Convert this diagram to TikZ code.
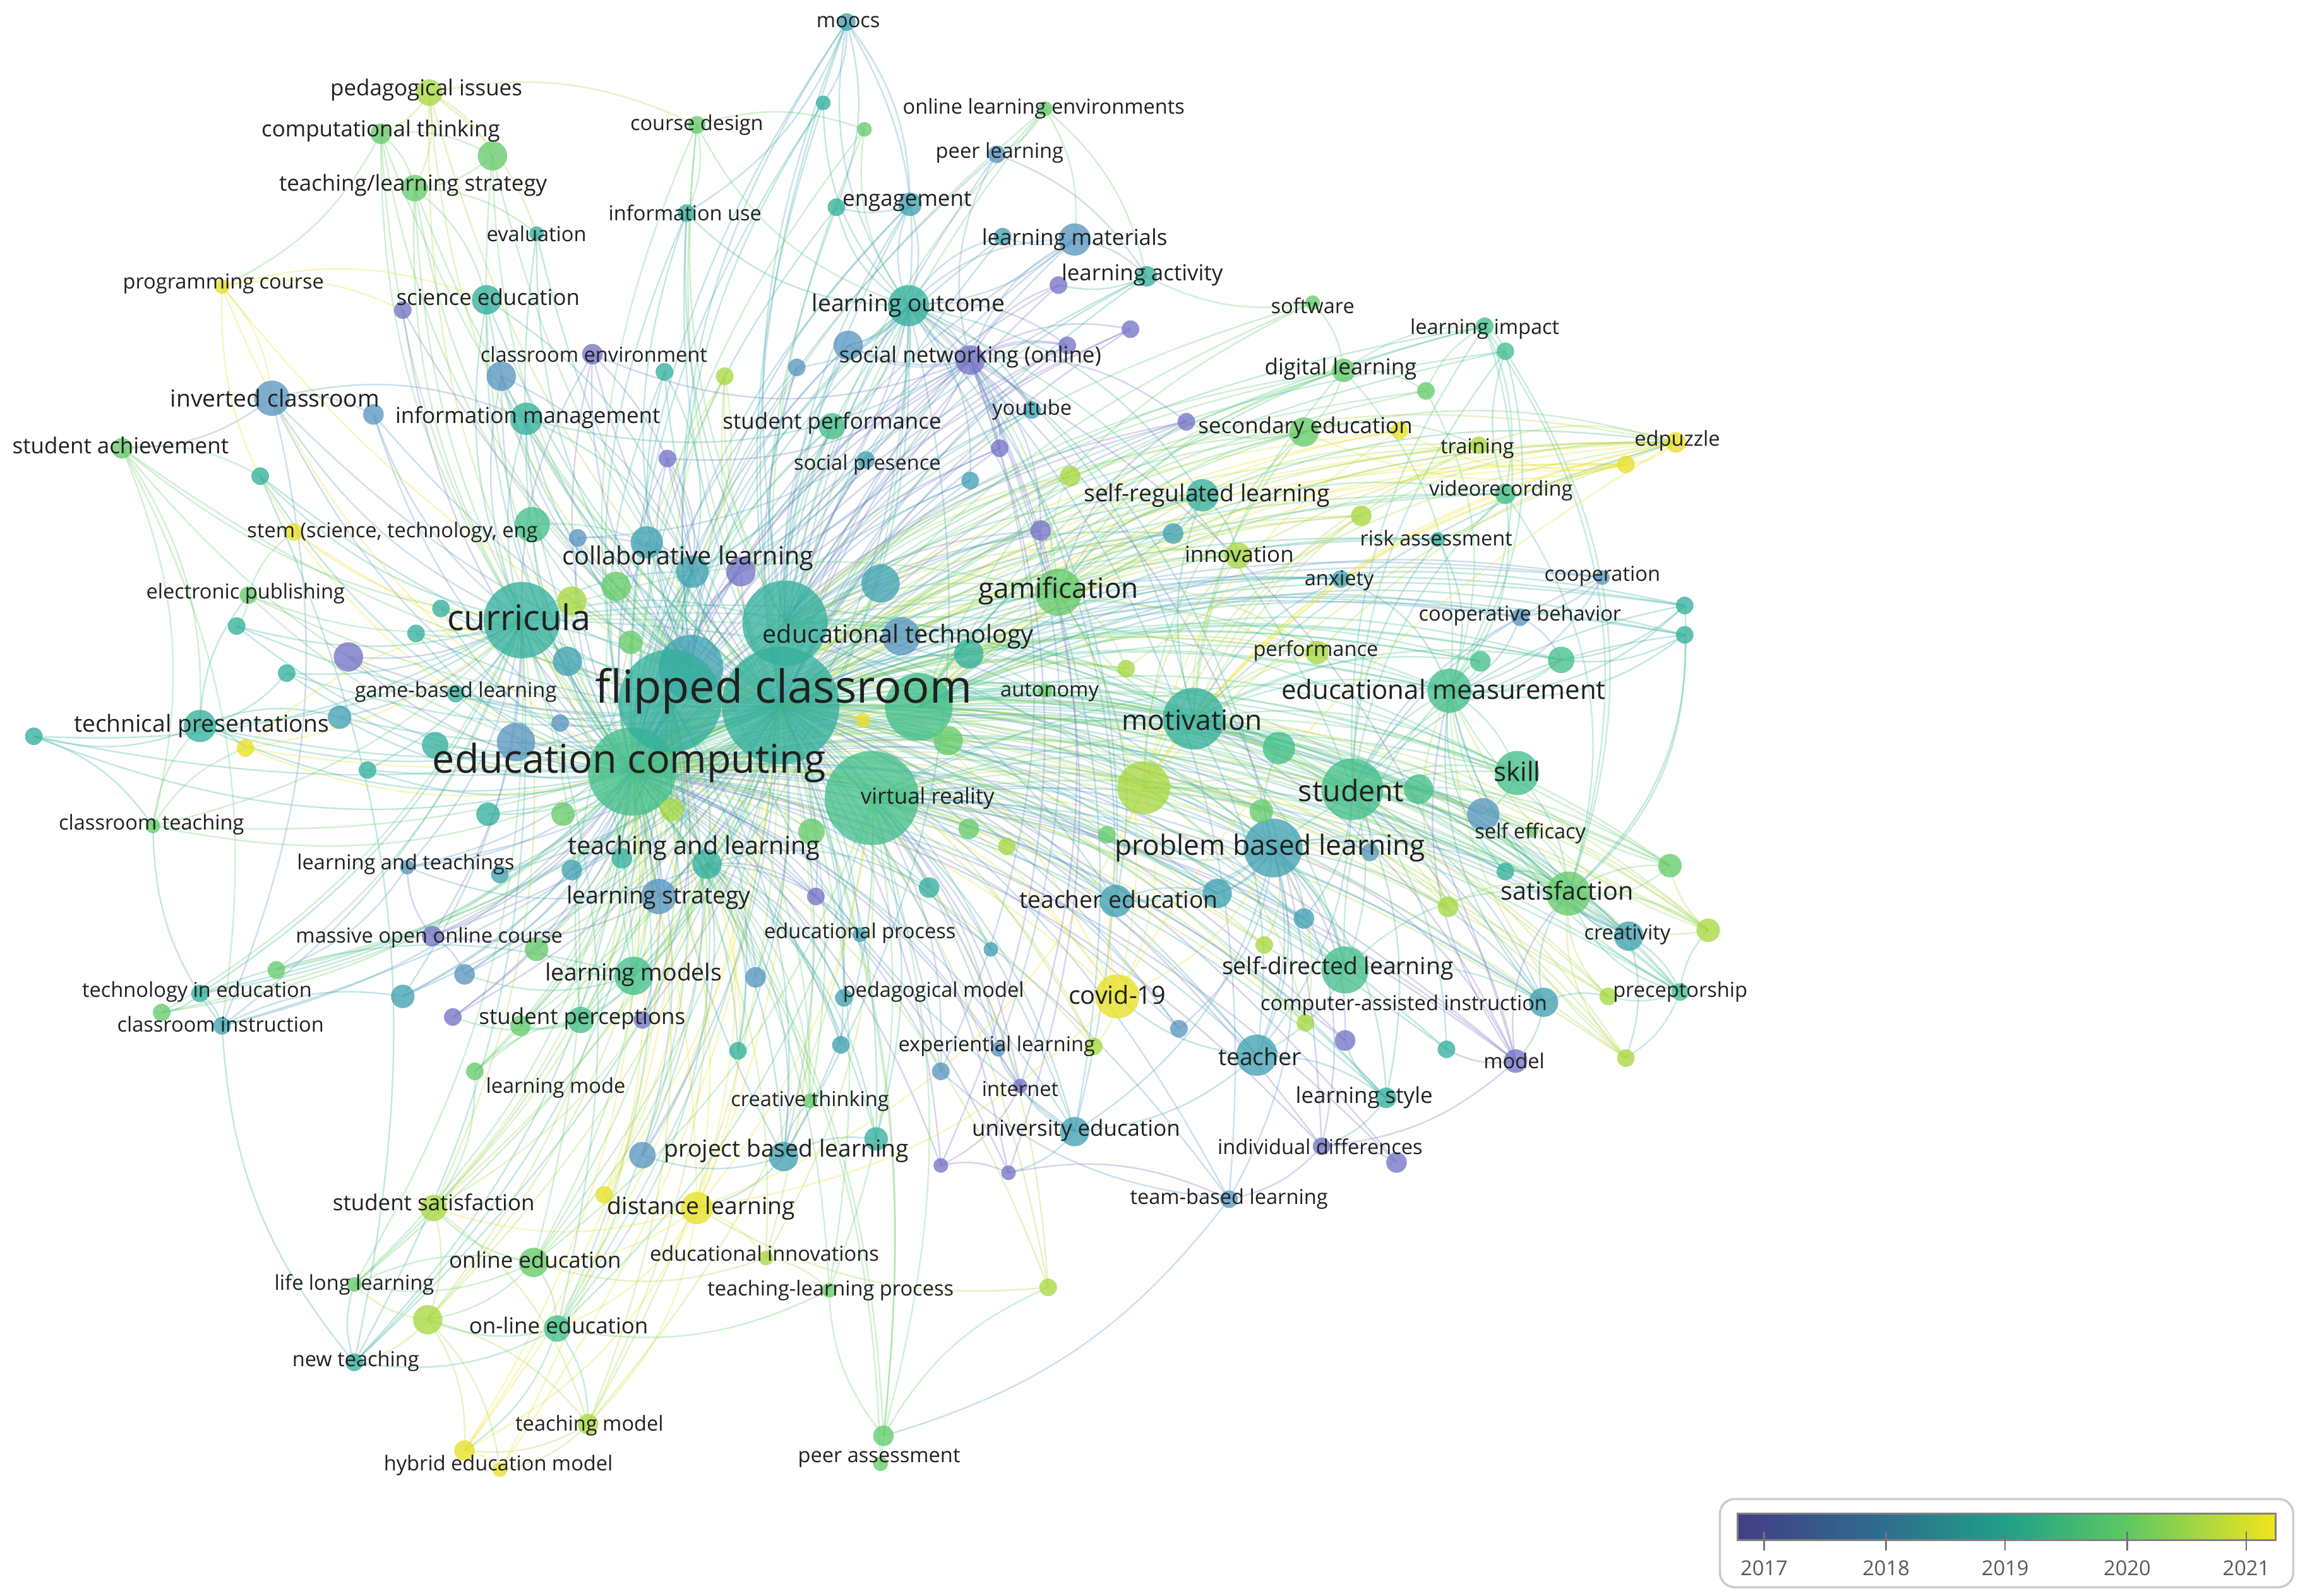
\documentclass[tikz,border=0pt]{standalone}
\usepackage{fontspec}
\setmainfont{Open Sans}
\pgfdeclarelayer{edges}
\pgfsetlayers{edges,main}
\definecolor{cA}{HTML}{7474C6}
\definecolor{cB}{HTML}{5A96C0}
\definecolor{cC}{HTML}{42A2B2}
\definecolor{cD}{HTML}{35B09C}
\definecolor{cE}{HTML}{45BF8A}
\definecolor{cF}{HTML}{66CB6C}
\definecolor{cG}{HTML}{A8D843}
\definecolor{cH}{HTML}{E8E028}
\definecolor{labc}{HTML}{202020}
\definecolor{v0}{HTML}{433E85}
\definecolor{v1}{HTML}{2F6B8E}
\definecolor{v2}{HTML}{20A087}
\definecolor{v3}{HTML}{5CC863}
\definecolor{v4}{HTML}{F2E51D}
\pgfdeclarehorizontalshading{viridisbar}{100bp}{color(0bp)=(v0); color(25bp)=(v0); color(38bp)=(v1); color(50bp)=(v2); color(61bp)=(v3); color(75bp)=(v4); color(100bp)=(v4)}
\def\Llab{moo,pedi,comp,cdes,ole,peer,tls,eng,iuse,eval,lmat,lact,prog,sci,lout,soft,limp,cenv,snet,dlrn,inv,yt,imgt,sperf,sec,trn,edp,sach,spres,srl,vrec,stem,risk,coll,innov,coop,epub,anx,gam,cur,cbeh,edt,perf,gbl,auto,emeas,mot,tpres,skill,stu,vr,seff,ctch,tal,pbl,lat,lstr,sat,ted,eproc,crea,mooc,lmod,sdl,tie,pmod,cov,cai,prec,cins,sper,exp,tchr,model,lmode,inet,lsty,cthk,uned,idif,prbl,tbl,ssat,dist,einn,oned,lll,tlp,olned,ntch,tmod,hyb,pass}
\def\Lun{a1,a2,a3,a4,a5,a6,a7,a8,a9,a10,a11,a12,a13,a14,a15,a16,a17,a18,a19,a20,a21,a22,a23,a24,a25,a26,a27,a28,a29,a30,a31,a32,a33,a34,a35,a36,a37,a38,a39,a40,a41,a42,a43,a44,a45,a46,a47,a48,a49,a50,a51,a52,a53,a54,a55,a56,a57,a58,a59,a60,a61,a62,a63,a64,a65,a66,a67,a68,a69,a70,a71,a72,a73,a74,a75,a76,a77,a78,a79,a81,a82,a83,a84,a85,a86,a87,a88,a89,a91,a92,a93,a94,a95,a96,a97,a98,a99,a100,a101,a102,a103,a104,a105,a106,a107,a108,a109,a110,a111,a112,a113,a114,a115,a116,a117,a118}
\newcommand\hubedges[3]{\foreach \t in #2 {\edef\myc{\csname nc\t\endcsname}\draw[edge,draw=\myc] (#1.center) to[bend left=#3] (\t.center);}}
\begin{document}
\begin{tikzpicture}[x=1pt,y=-1pt,
  nd/.style={circle,inner sep=0pt,draw=none,fill opacity=0.78},
  lab/.style={font=\fontsize{#1}{#1}\selectfont,text=labc,inner sep=0pt},
  edge/.style={line width=1.05pt,draw opacity=0.3},
  yr/.style={font=\fontsize{14}{14}\selectfont,text=black!65,inner sep=0pt}]
\useasboundingbox (0,0) rectangle (1568,1086);
% ---------- nodes ----------
\foreach \n/\x/\y/\r/\c in {
moo/576/15/6/cC, pedi/292/63/9/cG, comp/259/91/7/cF, cdes/474/85/6/cF, ole/711/74/5/cF, peer/678/105/6/cB,
tls/282/128/9/cF, eng/619/139/8/cC, iuse/467/145/6/cD, eval/365/159/5/cD, lmat/731/163/11/cB, lact/780/188/7/cD,
prog/151/195/5/cH, sci/331/204/10/cD, lout/618/208/14/cD, soft/893/206/5/cF, limp/1010/222/6/cE, cenv/403/241/7/cA,
snet/660/245/10/cA, dlrn/914/252/8/cF, inv/185/271/12/cB, yt/702/279/6/cC, imgt/358/285/11/cD, sperf/566/290/9/cE,
sec/887/294/10/cF, trn/1006/303/6/cG, edp/1140/301/7/cH, sach/83/305/7/cF, spres/589/313/6/cC, srl/818/337/11/cD,
vrec/1024/336/7/cE, stem/200/362/6/cH, risk/978/367/5/cD, coll/471/389/11/cC, innov/842/378/9/cG, coop/1090/393/5/cB,
epub/169/405/6/cF, anx/912/394/6/cC, gam/720/403/16/cF, cur/355/422/26/cD, cbeh/1034/420/6/cB, edt/534/424/29/cD,
perf/896/444/8/cG, gbl/310/472/6/cD, fc/531/480/40/cD, auto/711/470/5/cF, emeas/986/470/15/cE, mot/812/489/21/cD,
tpres/136/494/11/cD, ec/430/525/30/cE, skill/1032/526/15/cE, stu/920/537/21/cE, vr/593/543/32/cE, seff/1042/566/4/cF,
ctch/104/562/5/cF, tal/481/588/10/cD, pbl/866/577/20/cC, lat/277/590/5/cB, lstr/448/610/12/cB, sat/1067/608/15/cF,
ted/759/613/11/cC, eproc/585/636/5/cC, crea/1108/637/10/cC, mooc/294/637/7/cA, lmod/431/664/13/cE, sdl/915/660/16/cE,
tie/136/676/6/cD, pmod/574/679/6/cC, cov/760/678/15/cH, cai/1050/682/10/cC, prec/1143/675/6/cE, cins/151/698/6/cC,
sper/395/694/9/cE, exp/679/714/5/cB, tchr/855/718/14/cC, model/1031/722/8/cA, lmode/323/729/6/cF, inet/694/739/5/cA,
lsty/943/747/7/cD, cthk/551/749/5/cF, uned/731/770/10/cC, idif/899/780/6/cA, prbl/533/787/10/cC, tbl/836/816/6/cB,
ssat/295/822/9/cG, dist/474/822/11/cH, einn/521/856/5/cG, oned/363/859/10/cF, lll/241/874/5/cF, tlp/564/878/5/cF,
olned/379/904/9/cE, ntch/241/927/6/cD, tmod/400/969/7/cG, hyb/316/987/7/cH, pass/601/977/7/cF,
a1/560/70/5/cD, a2/588/88/5/cF, a3/335/106/10/cF, a4/569/141/6/cD, a5/682/161/6/cC, a6/720/194/6/cA, a7/769/224/6/cA,
a8/1024/239/6/cE, a9/577/235/10/cB, a10/726/235/6/cA, a11/970/266/6/cF, a12/807/287/6/cA, a13/952/293/6/cH,
a14/680/305/6/cA, a15/728/324/7/cG, a16/660/327/6/cC, a17/1106/316/6/cH, a18/274/211/6/cA, a19/341/256/10/cB,
a20/452/253/6/cD, a21/493/256/6/cG, a22/542/250/6/cB, a23/254/282/7/cB, a24/454/312/6/cA, a25/177/324/6/cD,
a26/708/361/7/cA, a27/798/363/7/cC, a28/926/351/7/cG, a29/1146/412/6/cD, a30/1146/432/6/cD, a31/1007/450/7/cE,
a32/1062/449/9/cE, a33/766/455/6/cG, a34/870/509/11/cE, a35/778/536/18/cG, a36/965/537/10/cE, a37/1009/554/11/cB,
a38/858/552/8/cF, a39/753/568/6/cF, a40/932/580/6/cB, a41/1024/593/6/cD, a42/1136/589/8/cF, a43/828/608/10/cC,
a44/985/617/7/cG, a45/887/625/7/cC, a46/1162/633/8/cG, a47/860/643/6/cG, a48/1094/678/6/cG, a49/888/696/6/cG,
a50/802/700/6/cB, a51/915/708/7/cA, a52/984/714/6/cD, a53/1106/720/6/cG, a54/950/791/7/cA, a55/599/397/13/cC,
a56/613/433/13/cB, a57/470/454/22/cC, a58/456/477/35/cD, a59/625/481/23/cE, a60/419/399/10/cF, a61/389/409/10/cG,
a62/504/389/10/cA, a63/440/369/11/cC, a64/386/450/10/cC, a65/587/490/5/cH, a66/645/504/10/cF, a67/659/445/10/cD,
a68/351/505/13/cB, a69/296/507/9/cD, a70/381/492/6/cB, a71/457/551/8/cG, a72/383/554/8/cF, a73/332/554/8/cD,
a74/685/576/6/cG, a75/659/564/7/cF, a76/552/566/9/cF, a77/423/584/7/cD, a78/362/357/12/cE, a79/393/366/6/cB,
a81/161/426/6/cD, a82/300/414/6/cD, a83/283/431/6/cD, a84/237/447/10/cA, a85/429/437/8/cF, a86/195/458/6/cD,
a87/231/488/8/cC, a88/23/501/6/cD, a89/167/509/6/cH, a91/250/524/6/cD, a92/340/595/6/cC, a93/389/592/7/cC,
a94/365/646/8/cF, a95/188/660/6/cF, a96/316/663/7/cB, a97/274/678/8/cC, a98/110/689/6/cF, a99/308/692/6/cA,
a100/354/698/7/cF, a101/437/694/6/cA, a102/502/715/6/cD, a103/572/711/6/cC, a104/744/712/6/cG, a105/640/729/6/cB,
a106/596/775/8/cD, a107/437/786/9/cB, a108/640/793/5/cA, a109/686/798/5/cA, a110/411/813/6/cH, a111/713/876/6/cG,
a112/291/898/10/cG, a113/340/1000/5/cH, a114/599/996/5/cF, a115/514/665/7/cB, a116/555/610/6/cA, a117/632/604/7/cD,
a118/674/646/5/cC}
{\node[nd,minimum size=\r*2pt,fill=\c] (\n) at (\x,\y) {};
 \expandafter\xdef\csname nc\n\endcsname{\c}}
% ---------- edges ----------
\begin{pgfonlayer}{edges}
\hubedges{fc}{\Llab}{14}
\hubedges{fc}{\Lun}{14}
\hubedges{ec}{\Llab}{18}
\hubedges{ec}{\Lun}{18}
\hubedges{cur}{{inv,imgt,sci,cenv,tls,comp,sach,tpres,epub,stem,a81,a84,a82,a83,a86,a87,gbl,ctch,lat,mooc,tie,cins,lmod,lstr,tal,coll,edt,vr,mot,gam,pbl,stu,sat,a23,a19,a25,a88,a89,a91,a95,a97,a98,dist,oned,ssat,olned,lll,ntch}}{16}
\hubedges{edt}{{lout,snet,eng,lmat,lact,sperf,spres,yt,srl,gam,innov,sec,dlrn,mot,stu,pbl,ted,cov,sdl,emeas,skill,sat,a26,a27,a9,a10,a7,a12,a14,a15,a16,a22,a21,iuse,moo,cdes,ole,perf,auto}}{16}
\hubedges{vr}{{mot,stu,pbl,sdl,ted,cov,tchr,uned,prbl,dist,einn,tlp,pass,a35,a38,a39,a43,a45,a47,a49,a50,emeas,skill,sat,crea,cai,lsty,model,exp,inet,a104,a105,a106,a111,oned,olned,tmod}}{16}
\hubedges{a58}{{tpres,gbl,lat,mooc,lmod,sper,lmode,ssat,oned,olned,dist,tmod,hyb,a112,lll,ntch,a107,a110,prbl,cthk,tal,lstr,a92,a93,a94,a96,a97,a99,a100,a101,a102}}{20}
\hubedges{a57}{{imgt,sci,cenv,iuse,eval,tls,a3,comp,pedi,a19,a20,a21,a24,sperf,coll,a78,a79,a62,a63,lout,eng,snet,a9,moo,a1}}{20}
\hubedges{a59}{{gam,innov,srl,perf,anx,risk,emeas,a31,a32,skill,stu,mot,pbl,sat,crea,prec,a42,a46,a48,a53,sec,trn,edp,a17,a13,a28,a33,vrec,limp,dlrn,soft,coop,cbeh,a29,a30}}{20}
\hubedges{mot}{{srl,innov,perf,anx,emeas,gam,sec,dlrn,trn,edp,a17,a28,a31,a32,sat,skill,crea,prec,a46,a42,cai,sdl,tchr,model,a53,a44}}{18}
\hubedges{stu}{{emeas,skill,a37,seff,sat,crea,prec,a42,a46,sdl,cai,tchr,model,lsty,a52,a44,a45,a41,a40,cbeh,coop,a29,a30,risk,vrec,limp,a8}}{18}
\hubedges{lout}{{moo,eng,lmat,snet,sperf,spres,yt,iuse,cdes,a1,a2,a4,a5,a9,a10,a14,a16,a22,coll,a62,mot,gam,srl,ted,pbl,stu,tal,lstr,lmod,prbl,uned}}{22}
\hubedges{snet}{{a9,a10,a6,a7,a12,a14,a26,peer,lmat,cenv,imgt,a24,a62,a79,uned,inet,exp,a105,a108,a109,idif,model,tbl}}{22}
\hubedges{pbl}{{ted,a43,a45,a47,sdl,tchr,cov,uned,lsty,idif,tbl,a50,a51,a49,a40,a38,a39,a34,skill,crea,cai,model,sat}}{22}
\hubedges{tal}{{lstr,lmod,sper,prbl,dist,cthk,a102,a103,a106,a107,a115,a116,a117,eproc,pmod,oned,olned,ssat,lat,mooc}}{22}
\hubedges{gam}{{srl,innov,a26,a27,a33,cov,perf,sec,dlrn,a15,a12,ted,vrec,trn}}{22}
\hubedges{a35}{{sec,trn,edp,a17,a13,a28,innov,perf,cov,dist,a46,a48,a53,prec,a49,a44}}{22}
\hubedges{coll}{{imgt,cenv,sci,a19,a20,a21,a24,sperf,spres,a78,a79,a63,lmod,tal,lstr,sper,prbl,uned}}{-20}
\hubedges{emeas}{{limp,a8,vrec,risk,anx,coop,cbeh,a29,a30,a31,a32,sat,crea,prec,a42,a46,a41,a44,sdl,cai,model,a53,dlrn,a11}}{-24}
\hubedges{sat}{{a42,a46,prec,a48,a53,crea,cai,model,sdl,a44,a41,a36,seff,vrec,limp,a8,a29,a30}}{-26}
\hubedges{edp}{{a35,cov,gam,srl,sec,a28,a15,innov,perf,a33,mot,a65}}{-14}
\foreach \a/\b in {pedi/comp,pedi/tls,pedi/a3,pedi/eval,pedi/cdes,comp/tls,comp/a3,comp/prog,a3/tls,tls/eval,tls/sci,prog/inv,prog/sci,prog/a18,inv/sach,inv/a23,inv/imgt,sach/tpres,sach/ctch,sach/a25,moo/eng,moo/lout,moo/a1,moo/iuse,ole/peer,ole/lmat,ole/lact,eng/lout,eng/a4,lmat/lact,lmat/lout,lmat/a5,lact/a6,snet/lout,snet/a9,snet/yt,snet/a10,lout/a9,dlrn/sec,dlrn/limp,dlrn/a11,limp/a8,limp/vrec,sec/a13,sec/trn,sec/a12,trn/edp,edp/a17,a17/trn,a17/sec,vrec/risk,vrec/a8,srl/innov,srl/gam,srl/a27,soft/lact,soft/dlrn,coop/cbeh,cbeh/a32,a29/a32,a30/a32,a32/emeas,emeas/skill,emeas/a31,stu/a36,stu/sat,skill/a37,skill/sat,pbl/ted,pbl/a43,pbl/sdl,pbl/tchr,sat/crea,sat/a46,sat/a42,crea/prec,prec/a48,prec/a53,prec/a46,sdl/cai,sdl/tchr,sdl/a47,cai/model,tchr/lsty,tchr/uned,tchr/cov,lsty/idif,lsty/a51,idif/a54,idif/tbl,uned/inet,uned/a109,uned/exp,inet/exp,inet/a108,a108/a109,a109/tbl,tbl/a105,cov/ted,cov/dist,cov/a35,cov/a104,ted/a43,prbl/a107,prbl/a106,prbl/cthk,prbl/dist,dist/a110,dist/einn,dist/oned,dist/olned,dist/ssat,dist/hyb,dist/tmod,oned/olned,oned/ssat,oned/lll,oned/a112,olned/a112,olned/ntch,olned/tmod,olned/hyb,a112/hyb,a112/a113,a112/lll,a112/ntch,a112/tmod,tmod/hyb,tmod/a113,hyb/a113,ssat/a112,ssat/tmod,einn/tlp,einn/oned,tlp/olned,pass/a111,tbl/pass,pass/tlp,a111/dist,ntch/lll,ntch/cins,lll/oned,tie/cins,tie/a98,tie/lmod,cins/a97,cins/ctch,ctch/tpres,ctch/a89,tpres/a88,tpres/a87,tpres/a89,tpres/epub,epub/a81,epub/stem,stem/prog,a86/tpres,mooc/lat,mooc/a96,lat/a95,lmod/sper,lmod/a94,lmod/a96,sper/a99,sper/a100,sper/a101,lmode/sper,lmode/ssat,inv/cins,a25/ntch,sach/cins,cdes/iuse,cdes/a2,moo/a4,peer/lact,a11/limp,a17/a13,model/idif,model/a52,cai/a48,crea/a53,a46/a42,a88/ctch,a89/cur}
{\edef\myc{\csname nc\a\endcsname}\draw[edge,draw=\myc] (\a.center) to[bend left=18] (\b.center);}
\end{pgfonlayer}
% ---------- labels ----------
\node[lab=14] (moo-t) at (577,15) {moocs};
\node[lab=15] (pedi-t) at (290,61) {pedagogical issues};
\node[lab=15] (comp-t) at (259,89) {computational thinking};
\node[lab=14] (cdes-t) at (474,85) {course design};
\node[lab=14] (ole-t) at (710,74) {online learning environments};
\node[lab=14] (peer-t) at (680,104) {peer learning};
\node[lab=15] (tls-t) at (281,126) {teaching/learning strategy};
\node[lab=15] (eng-t) at (617,137) {engagement};
\node[lab=14] (iuse-t) at (466,145) {information use};
\node[lab=14] (eval-t) at (365,159) {evaluation};
\node[lab=15] (lmat-t) at (731,163) {learning materials};
\node[lab=15] (lact-t) at (777,187) {learning activity};
\node[lab=14] (prog-t) at (152,193) {programming course};
\node[lab=15] (sci-t) at (332,202) {science education};
\node[lab=16] (lout-t) at (618,208) {learning outcome};
\node[lab=14] (soft-t) at (893,208) {software};
\node[lab=14] (limp-t) at (1010,224) {learning impact};
\node[lab=14] (cenv-t) at (404,241) {classroom environment};
\node[lab=15] (snet-t) at (660,243) {social networking (online)};
\node[lab=15] (dlrn-t) at (912,251) {digital learning};
\node[lab=16] (inv-t) at (187,271) {inverted classroom};
\node[lab=14] (yt-t) at (702,279) {youtube};
\node[lab=15] (imgt-t) at (359,284) {information management};
\node[lab=15] (sperf-t) at (566,288) {student performance};
\node[lab=15] (sec-t) at (888,291) {secondary education};
\node[lab=14] (trn-t) at (1005,305) {training};
\node[lab=14] (edp-t) at (1141,300) {edpuzzle};
\node[lab=15] (sach-t) at (82,303) {student achievement};
\node[lab=14] (spres-t) at (590,316) {social presence};
\node[lab=16] (srl-t) at (821,337) {self-regulated learning};
\node[lab=14] (vrec-t) at (1021,334) {videorecording};
\node[lab=14] (stem-t) at (267,362) {stem (science, technology, eng};
\node[lab=14] (risk-t) at (977,366) {risk assessment};
\node[lab=17] (coll-t) at (468,380) {collaborative learning};
\node[lab=15] (innov-t) at (843,377) {innovation};
\node[lab=14] (coop-t) at (1090,392) {cooperation};
\node[lab=14] (epub-t) at (167,404) {electronic publishing};
\node[lab=14] (anx-t) at (911,395) {anxiety};
\node[lab=19] (gam-t) at (720,402) {gamification};
\node[lab=24] (cur-t) at (353,420) {curricula};
\node[lab=14] (cbeh-t) at (1034,419) {cooperative behavior};
\node[lab=17] (edt-t) at (611,433) {educational technology};
\node[lab=14] (perf-t) at (895,443) {performance};
\node[lab=14] (gbl-t) at (310,471) {game-based learning};
\node[lab=31] (fc-t) at (533,470) {flipped classroom};
\node[lab=14] (auto-t) at (714,471) {autonomy};
\node[lab=18] (emeas-t) at (982,469) {educational measurement};
\node[lab=19] (mot-t) at (811,490) {motivation};
\node[lab=16] (tpres-t) at (137,494) {technical presentations};
\node[lab=27] (ec-t) at (428,519) {education computing};
\node[lab=18] (skill-t) at (1032,525) {skill};
\node[lab=20] (stu-t) at (919,538) {student};
\node[lab=15] (vr-t) at (631,543) {virtual reality};
\node[lab=14] (seff-t) at (1041,567) {self efficacy};
\node[lab=14] (ctch-t) at (103,561) {classroom teaching};
\node[lab=17] (tal-t) at (472,577) {teaching and learning};
\node[lab=19] (pbl-t) at (864,577) {problem based learning};
\node[lab=14] (lat-t) at (276,588) {learning and teachings};
\node[lab=16] (lstr-t) at (448,611) {learning strategy};
\node[lab=17] (sat-t) at (1066,606) {satisfaction};
\node[lab=16] (ted-t) at (761,612) {teacher education};
\node[lab=14] (eproc-t) at (585,635) {educational process};
\node[lab=14] (crea-t) at (1107,636) {creativity};
\node[lab=14] (mooc-t) at (292,638) {massive open online course};
\node[lab=16] (lmod-t) at (431,663) {learning models};
\node[lab=16] (sdl-t) at (910,659) {self-directed learning};
\node[lab=14] (tie-t) at (134,675) {technology in education};
\node[lab=14] (pmod-t) at (635,675) {pedagogical model};
\node[lab=17] (cov-t) at (760,677) {covid-19};
\node[lab=14] (cai-t) at (955,684) {computer-assisted instruction};
\node[lab=14] (prec-t) at (1143,675) {preceptorship};
\node[lab=14] (cins-t) at (150,697) {classroom instruction};
\node[lab=15] (sper-t) at (396,693) {student perceptions};
\node[lab=14] (exp-t) at (678,712) {experiential learning};
\node[lab=16] (tchr-t) at (857,719) {teacher};
\node[lab=14] (model-t) at (1030,722) {model};
\node[lab=14] (lmode-t) at (378,740) {learning mode};
\node[lab=14] (inet-t) at (694,741) {internet};
\node[lab=15] (lsty-t) at (928,747) {learning style};
\node[lab=14] (cthk-t) at (551,749) {creative thinking};
\node[lab=15] (uned-t) at (732,769) {university education};
\node[lab=14] (idif-t) at (898,780) {individual differences};
\node[lab=16] (prbl-t) at (535,783) {project based learning};
\node[lab=14] (tbl-t) at (836,816) {team-based learning};
\node[lab=15] (ssat-t) at (295,818) {student satisfaction};
\node[lab=16] (dist-t) at (477,822) {distance learning};
\node[lab=14] (einn-t) at (520,853) {educational innovations};
\node[lab=15] (oned-t) at (364,857) {online education};
\node[lab=14] (lll-t) at (241,874) {life long learning};
\node[lab=14] (tlp-t) at (565,878) {teaching-learning process};
\node[lab=15] (olned-t) at (380,902) {on-line education};
\node[lab=14] (ntch-t) at (242,926) {new teaching};
\node[lab=14] (tmod-t) at (401,970) {teaching model};
\node[lab=14] (hyb-t) at (339,997) {hybrid education model};
\node[lab=14] (pass-t) at (598,992) {peer assessment};
% ---------- legend ----------
\node[draw=black!20,line width=1.5pt,rounded corners=10pt,minimum width=390pt,minimum height=60pt,inner sep=0pt] (legend) at (1365,1050) {};
\node[shade,shading=viridisbar,draw=black!50,line width=1.2pt,minimum width=366pt,minimum height=18pt,inner sep=0pt] (bar) at (1365,1039) {};
\foreach \yr/\xx in {2017/1200,2018/1283,2019/1364,2020/1447,2021/1528}{
  \draw[black!55,line width=1pt] (\xx,1042) -- (\xx,1055);
  \node[yr] (y\yr) at (\xx,1067) {\yr};}
\end{tikzpicture}
\end{document}
